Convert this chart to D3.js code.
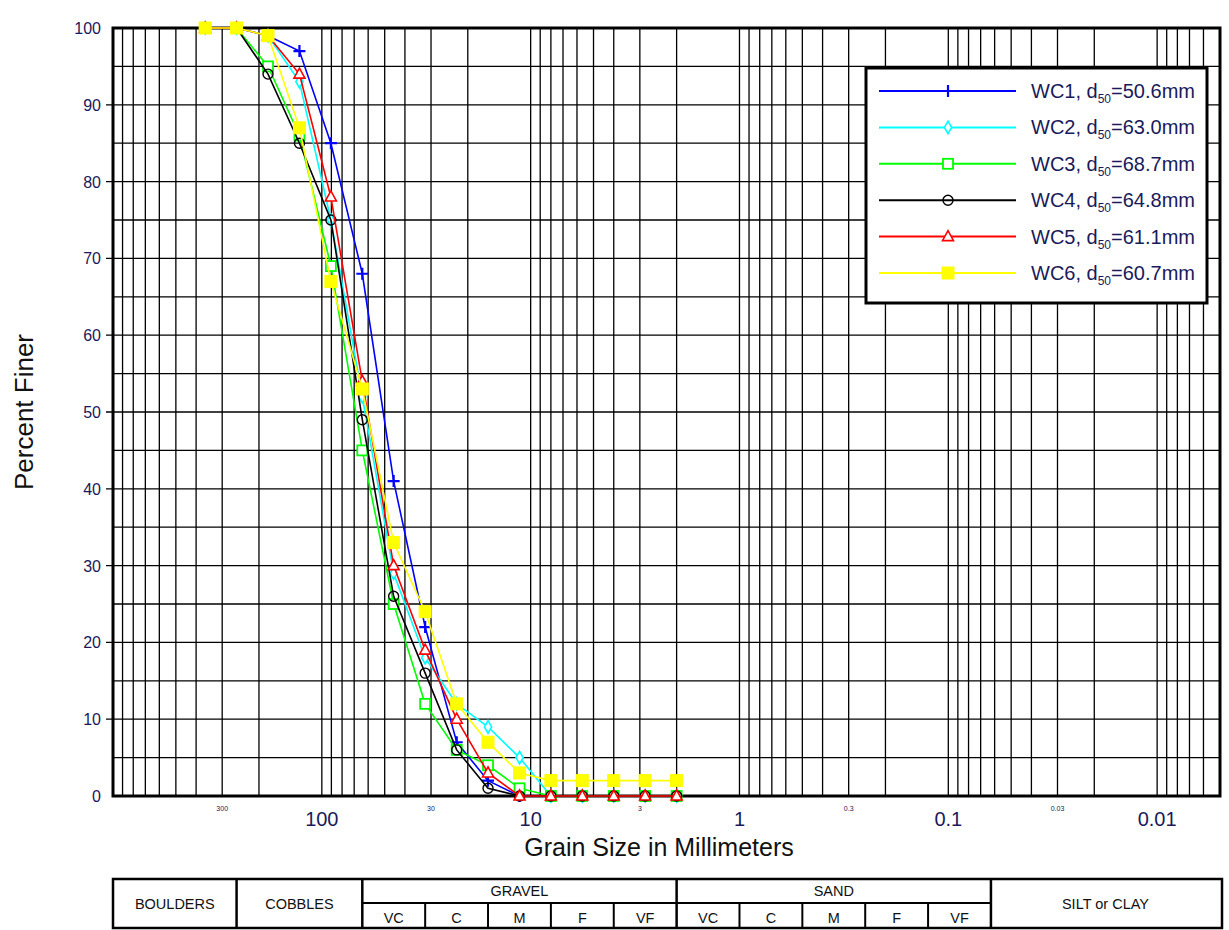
<!DOCTYPE html>
<html>
<head>
<meta charset="utf-8">
<script src="https://cdn.jsdelivr.net/npm/d3@7"></script>
<style>
  body { margin: 0; background: #fff; }
  text { font-family: "Liberation Sans", Arial, sans-serif; }
</style>
</head>
<body>
<div id="chart"></div>
<script>
// sieve sizes (mm) and percent finer per sample
var sieves = [362, 256, 181, 128, 90.5, 64, 45.3, 32, 22.6, 16, 11.3, 8, 5.66, 4, 2.83, 2]
var wc1 = [100, 100, 99, 97, 85, 68, 41, 22, 7, 2, 0, 0, 0, 0, 0, 0]
var wc2 = [100, 100, 99, 93, 75, 52, 29, 18, 12, 9, 5, 0, 0, 0, 0, 0]
var wc3 = [100, 100, 95, 86, 69, 45, 25, 12, 6, 4, 1, 0, 0, 0, 0, 0]
var wc4 = [100, 100, 94, 85, 75, 49, 26, 16, 6, 1, 0, 0, 0, 0, 0, 0]
var wc5 = [100, 100, 99, 94, 78, 54, 30, 19, 10, 3, 0, 0, 0, 0, 0, 0]
var wc6 = [100, 100, 99, 87, 67, 53, 33, 24, 12, 7, 3, 2, 2, 2, 2, 2]
var seriesNames = ["WC1", "WC2", "WC3", "WC4", "WC5", "WC6"]
var d50 = ["50.6", "63.0", "68.7", "64.8", "61.1", "60.7"]
var colors = ["#0000ff", "#00ffff", "#00ff00", "#000000", "#ff0000", "#ffff00"]

var bigTicks = [100, 10, 1, 0.1, 0.01]
var smallTicks = [300, 30, 3, 0.3, 0.03]
var yTicks = [0, 10, 20, 30, 40, 50, 60, 70, 80, 90, 100]

// size classes for the table below the chart
var mainClasses = [
  {name: "BOULDERS", from: 1000, to: 256, sub: false},
  {name: "COBBLES", from: 256, to: 64, sub: false},
  {name: "GRAVEL", from: 64, to: 2, sub: true},
  {name: "SAND", from: 2, to: 0.0625, sub: true},
  {name: "SILT or CLAY", from: 0.0625, to: 0.005, sub: false}
]
var gravelSubs = [64, 32, 16, 8, 4, 2]
var sandSubs = [2, 1, 0.5, 0.25, 0.125, 0.0625]
var subNames = ["VC", "C", "M", "F", "VF"]

var W = 1229, H = 930
var pLeft = 113, pRight = 1220, pTop = 28, pBottom = 796
var txt = "#1a1a5a"

var svg = d3.select("#chart").append("svg")
    .attr("width", W).attr("height", H)

var x = d3.scaleLog().domain([1000, 0.005]).range([pLeft, pRight])
var y = d3.scaleLinear().domain([0, 100]).range([pBottom, pTop])

// vertical grid lines (1..9 x 10^k)
var vgrid = []
for (var k = -3; k <= 2; k++) {
  for (var m = 1; m <= 9; m++) {
    var v = m * Math.pow(10, k)
    if (v < 1000 && v > 0.005) vgrid.push(v)
  }
}
svg.append("g").selectAll("line").data(vgrid).join("line")
    .attr("x1", d => x(d)).attr("x2", d => x(d))
    .attr("y1", pTop).attr("y2", pBottom)
    .attr("stroke", "#000").attr("stroke-width", 1.3)

// horizontal grid lines every 5
svg.append("g").selectAll("line").data(d3.range(5, 100, 5)).join("line")
    .attr("x1", d => d % 10 === 0 ? pLeft - 7 : pLeft).attr("x2", pRight)
    .attr("y1", d => y(d)).attr("y2", d => y(d))
    .attr("stroke", "#000").attr("stroke-width", 1.3)

// frame
svg.append("rect")
    .attr("x", pLeft).attr("y", pTop)
    .attr("width", pRight - pLeft).attr("height", pBottom - pTop)
    .attr("fill", "none").attr("stroke", "#000").attr("stroke-width", 3)

// y labels
svg.append("g").selectAll("text").data(yTicks).join("text")
    .attr("x", pLeft - 12).attr("y", d => y(d) + 6)
    .attr("text-anchor", "end").attr("font-size", 16).attr("fill", txt)
    .text(d => d)

// x labels
svg.append("g").selectAll("text").data(bigTicks).join("text")
    .attr("x", d => x(d)).attr("y", pBottom + 30)
    .attr("text-anchor", "middle").attr("font-size", 20).attr("fill", txt)
    .text(d => d)
svg.append("g").selectAll("text").data(smallTicks).join("text")
    .attr("x", d => x(d)).attr("y", pBottom + 15)
    .attr("text-anchor", "middle").attr("font-size", 7).attr("fill", txt)
    .text(d => d)

// axis titles
svg.append("text")
    .attr("transform", "translate(33," + ((pTop + pBottom) / 2) + ") rotate(-90)")
    .attr("text-anchor", "middle").attr("font-size", 26).attr("fill", "#111")
    .text("Percent Finer")
svg.append("text")
    .attr("x", 659).attr("y", 856)
    .attr("text-anchor", "middle").attr("font-size", 25).attr("fill", "#111")
    .text("Grain Size in Millimeters")

// markers
function drawMarker(g, i, cx, cy) {
  var c = colors[i]
  if (i === 0) {
    g.append("path").attr("d", "M" + (cx - 6) + "," + cy + "H" + (cx + 6) + "M" + cx + "," + (cy - 6) + "V" + (cy + 6))
        .attr("stroke", c).attr("stroke-width", 2.2).attr("fill", "none")
  } else if (i === 1) {
    g.append("path").attr("d", d3.symbol().type(d3.symbolDiamond).size(45)())
        .attr("transform", "translate(" + cx + "," + cy + ")")
        .attr("fill", "#fff").attr("stroke", c).attr("stroke-width", 1.6)
  } else if (i === 2) {
    g.append("rect").attr("x", cx - 5).attr("y", cy - 5).attr("width", 10).attr("height", 10)
        .attr("fill", "#fff").attr("stroke", c).attr("stroke-width", 1.8)
  } else if (i === 3) {
    g.append("circle").attr("cx", cx).attr("cy", cy).attr("r", 5)
        .attr("fill", "none").attr("stroke", c).attr("stroke-width", 1.4)
  } else if (i === 4) {
    g.append("path").attr("d", "M" + cx + "," + (cy - 6) + "L" + (cx + 5.5) + "," + (cy + 4) + "L" + (cx - 5.5) + "," + (cy + 4) + "Z")
        .attr("fill", "#fff").attr("stroke", c).attr("stroke-width", 1.6)
  } else {
    g.append("rect").attr("x", cx - 6).attr("y", cy - 6).attr("width", 12).attr("height", 12)
        .attr("fill", c).attr("stroke", c)
  }
}

var allSeries = [wc1, wc2, wc3, wc4, wc5, wc6]
var line = d3.line().x(d => x(d[0])).y(d => y(d[1]))

allSeries.forEach(function(vals, i) {
  var pts = sieves.map((s, j) => [s, vals[j]])
  var g = svg.append("g")
  g.append("path").datum(pts).attr("d", line)
      .attr("fill", "none").attr("stroke", colors[i]).attr("stroke-width", 1.6)
  pts.forEach(p => drawMarker(g, i, x(p[0]), y(p[1])))
})

// legend
var lg = svg.append("g")
lg.append("rect").attr("x", 866).attr("y", 68).attr("width", 341).attr("height", 235)
    .attr("fill", "#fff").attr("stroke", "#000").attr("stroke-width", 3)
seriesNames.forEach(function(n, i) {
  var ly = 91 + i * 36.4
  lg.append("line").attr("x1", 879).attr("x2", 1016).attr("y1", ly).attr("y2", ly)
      .attr("stroke", colors[i]).attr("stroke-width", 2)
  drawMarker(lg, i, 948, ly)
  var t = lg.append("text").attr("x", 1031).attr("y", ly + 7)
      .attr("font-size", 20).attr("fill", txt)
  t.append("tspan").text(n + ", d")
  t.append("tspan").attr("font-size", 12).attr("dy", 5).text("50")
  t.append("tspan").attr("dy", -5).text("=" + d50[i] + "mm")
})

// classification table
var tTop = 879, tMid = 903, tBot = 928
var fs = 14.5
var tg = svg.append("g")
tg.append("rect").attr("x", pLeft).attr("y", tTop).attr("width", pRight - pLeft + 2).attr("height", tBot - tTop)
    .attr("fill", "none").attr("stroke", "#000").attr("stroke-width", 2.5)
mainClasses.forEach(function(c) {
  var x0 = Math.max(x(c.from), pLeft), x1 = Math.min(x(c.to), pRight + 2)
  if (c.from < 1000) {
    tg.append("line").attr("x1", x0).attr("x2", x0).attr("y1", tTop).attr("y2", tBot)
        .attr("stroke", "#000").attr("stroke-width", 2.5)
  }
  if (c.sub) {
    tg.append("text").attr("x", (x0 + x1) / 2).attr("y", tTop + 17)
        .attr("text-anchor", "middle").attr("font-size", fs).attr("fill", "#111").text(c.name)
    tg.append("line").attr("x1", x0).attr("x2", x1).attr("y1", tMid).attr("y2", tMid)
        .attr("stroke", "#000").attr("stroke-width", 2)
    var subs = c.name === "GRAVEL" ? gravelSubs : sandSubs
    for (var j = 0; j < 5; j++) {
      var a = x(subs[j]), b = x(subs[j + 1])
      if (j > 0) {
        tg.append("line").attr("x1", a).attr("x2", a).attr("y1", tMid).attr("y2", tBot)
            .attr("stroke", "#000").attr("stroke-width", 2)
      }
      tg.append("text").attr("x", (a + b) / 2).attr("y", tBot - 5)
          .attr("text-anchor", "middle").attr("font-size", fs).attr("fill", "#111").text(subNames[j])
    }
  } else {
    tg.append("text").attr("x", (x0 + x1) / 2).attr("y", (tTop + tBot) / 2 + 5)
        .attr("text-anchor", "middle").attr("font-size", fs).attr("fill", "#111").text(c.name)
  }
})
</script>
</body>
</html>
